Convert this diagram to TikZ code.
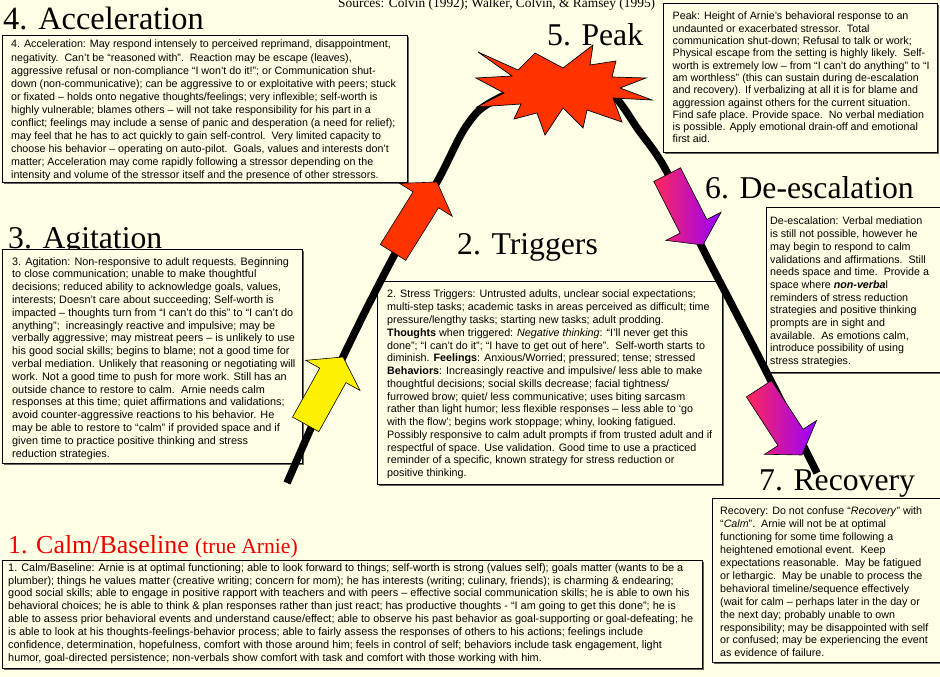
\documentclass[tikz,border=0pt]{standalone}
\usepackage{fontspec}
\setmainfont{Liberation Sans}
\newfontfamily\titlefont{Liberation Serif}
\definecolor{bgcol}{RGB}{255,255,229}
\definecolor{redarrow}{RGB}{255,51,0}
\definecolor{magtop}{RGB}{255,40,90}
\definecolor{magbot}{RGB}{150,0,255}
\definecolor{calmred}{RGB}{235,0,0}
\tikzset{
  stagetitle/.style={font=\titlefont\fontsize{31.7}{36}\selectfont, inner sep=0pt, anchor=base west},
  boxtext/.style={inner sep=0pt, anchor=north west, align=left},
  infobox/.style={draw=black, line width=0.8pt, fill=bgcol},
  boxshadow/.style={fill=black!60},
  arrowline/.style={draw=black, line width=0.6pt, line join=miter},
}
\newcommand{\blockarrow}[4]{%
  \begin{scope}[shift={#1},rotate=#2]
    \path[arrowline,#4] (0,0) -- (-21,31) -- (-21,15) -- (-#3,15) -- (-#3,-15) -- (-21,-15) -- (-21,-31) -- cycle;
  \end{scope}}
\newcommand{\infoboxat}[4]{%
  \fill[boxshadow] (#1+2,#2+2) rectangle (#3+2,#4+2);
  \path[infobox] (#1,#2) rectangle (#3,#4);}
\begin{document}
\begin{tikzpicture}[x=1pt,y=-1pt]
\fill[bgcol] (0,0) rectangle (940,677);
\useasboundingbox (0,0) rectangle (940,677);

% titles
\node[inner sep=0pt, anchor=base west, font=\titlefont\fontsize{13.4}{16}\selectfont] (src) at (338,8) {Sources: Colvin (1992); Walker, Colvin, \& Ramsey (1995)};
\node[stagetitle, font=\titlefont\fontsize{32.4}{36}\selectfont] (t4) at (3,30) {4. Acceleration};
\node[stagetitle] (t5) at (547,46) {5. Peak};
\node[stagetitle] (t2) at (457,254) {2. Triggers};
\node[stagetitle] (t3) at (8,248.5) {3. Agitation};
\node[stagetitle] (t6) at (705,198) {6. De-escalation};
\node[stagetitle] (t7) at (759,490) {7. Recovery};
\node[inner sep=0pt, anchor=base west, text=calmred, font=\titlefont] (t1) at (8,553) {\fontsize{25.9}{30}\selectfont 1. Calm/Baseline \fontsize{21.6}{24}\selectfont(true Arnie)};

% boxes
\infoboxat{2}{35}{407}{182}
\infoboxat{663}{3}{937}{152}
\infoboxat{2}{249}{302}{463}
\infoboxat{377}{281}{722}{484}
\infoboxat{766}{207}{944}{372}
\infoboxat{712}{498}{944}{662}
\infoboxat{2}{560}{702}{668}

% box texts
\node[boxtext, font=\fontsize{10.7}{13.1}\selectfont] (acc) at (11,40) {4. Acceleration: May respond intensely to perceived reprimand, disappointment,\\
negativity.\ \ Can’t be “reasoned with”.\ \ Reaction may be escape (leaves),\\
aggressive refusal or non-compliance “I won’t do it!”; or Communication shut-\\
down (non-communicative); can be aggressive to or exploitative with peers; stuck\\
or fixated – holds onto negative thoughts/feelings; very inflexible; self-worth is\\
highly vulnerable; blames others -- will not take responsibility for his part in a\\
conflict; feelings may include a sense of panic and desperation (a need for relief);\\
may feel that he has to act quickly to gain self-control.\ \ Very limited capacity to\\
choose his behavior – operating on auto-pilot.\ \ Goals, values and interests don’t\\
matter; Acceleration may come rapidly following a stressor depending on the\\
intensity and volume of the stressor itself and the presence of other stressors.};

\node[boxtext, font=\fontsize{10.7}{12.3}\selectfont] (peak) at (672.5,12) {Peak: Height of Arnie’s behavioral response to an\\
undaunted or exacerbated stressor.\ \ Total\\
communication shut-down; Refusal to talk or work;\\
Physical escape from the setting is highly likely.\ \ Self-\\
worth is extremely low – from “I can’t do anything” to “I\\
am worthless” (this can sustain during de-escalation\\
and recovery). If verbalizing at all it is for blame and\\
aggression against others for the current situation.\\
Find safe place. Provide space.\ \ No verbal mediation\\
is possible. Apply emotional drain-off and emotional\\
first aid.};

\node[boxtext, font=\fontsize{10.85}{12.8}\selectfont] (agi) at (12,257) {3. Agitation: Non-responsive to adult requests. Beginning\\
to close communication; unable to make thoughtful\\
decisions; reduced ability to acknowledge goals, values,\\
interests; Doesn’t care about succeeding; Self-worth is\\
impacted – thoughts turn from “I can’t do this” to “I can’t do\\
anything”;\ \ increasingly reactive and impulsive; may be\\
verbally aggressive; may mistreat peers – is unlikely to use\\
his good social skills; begins to blame; not a good time for\\
verbal mediation. Unlikely that reasoning or negotiating will\\
work. Not a good time to push for more work. Still has an\\
outside chance to restore to calm.\ \ Arnie needs calm\\
responses at this time; quiet affirmations and validations;\\
avoid counter-aggressive reactions to his behavior. He\\
may be able to restore to “calm” if provided space and if\\
given time to practice positive thinking and stress\\
reduction strategies.};

\node[boxtext, font=\fontsize{10.75}{12.76}\selectfont] (trig) at (387,290) {2. Stress Triggers: Untrusted adults, unclear social expectations;\\
multi-step tasks; academic tasks in areas perceived as difficult; time\\
pressure/lengthy tasks; starting new tasks; adult prodding.\\
\textbf{Thoughts} when triggered: \textit{Negative thinking}: “I’ll never get this\\
done”; “I can’t do it”; “I have to get out of here”.\ \ Self-worth starts to\\
diminish. \textbf{Feelings}: Anxious/Worried; pressured; tense; stressed\\
\textbf{Behaviors}: Increasingly reactive and impulsive/ less able to make\\
thoughtful decisions; social skills decrease; facial tightness/\\
furrowed brow; quiet/ less communicative; uses biting sarcasm\\
rather than light humor; less flexible responses – less able to ‘go\\
with the flow’; begins work stoppage; whiny, looking fatigued.\\
Possibly responsive to calm adult prompts if from trusted adult and if\\
respectful of space. Use validation. Good time to use a practiced\\
reminder of a specific, known strategy for stress reduction or\\
positive thinking.};

\node[boxtext, font=\fontsize{10.7}{12.7}\selectfont] (desc) at (770,217) {De-escalation: Verbal mediation\\
is still not possible, however he\\
may begin to respond to calm\\
validations and affirmations.\ \ Still\\
needs space and time.\ \ Provide a\\
space where \textbf{\textit{non-verba}}l\\
reminders of stress reduction\\
strategies and positive thinking\\
prompts are in sight and\\
available.\ \ As emotions calm,\\
introduce possibility of using\\
stress strategies.};

\node[boxtext, font=\fontsize{10.7}{12.9}\selectfont] (reco) at (720,507) {Recovery: Do not confuse “\textit{Recovery}” with\\
“\textit{Calm}”.\ \ Arnie will not be at optimal\\
functioning for some time following a\\
heightened emotional event.\ \ Keep\\
expectations reasonable.\ \ May be fatigued\\
or lethargic.\ \ May be unable to process the\\
behavioral timeline/sequence effectively\\
(wait for calm – perhaps later in the day or\\
the next day; probably unable to own\\
responsibility; may be disappointed with self\\
or confused; may be experiencing the event\\
as evidence of failure.};

\node[boxtext, font=\fontsize{10.9}{12.9}\selectfont] (calm) at (8,563) {1. Calm/Baseline: Arnie is at optimal functioning; able to look forward to things; self-worth is strong (values self); goals matter (wants to be a\\
plumber); things he values matter (creative writing; concern for mom); he has interests (writing; culinary, friends); is charming \& endearing;\\
good social skills; able to engage in positive rapport with teachers and with peers – effective social communication skills; he is able to own his\\
behavioral choices; he is able to think \& plan responses rather than just react; has productive thoughts - “I am going to get this done”; he is\\
able to assess prior behavioral events and understand cause/effect; able to observe his past behavior as goal-supporting or goal-defeating; he\\
is able to look at his thoughts-feelings-behavior process; able to fairly assess the responses of others to his actions; feelings include\\
confidence, determination, hopefulness, comfort with those around him; feels in control of self; behaviors include task engagement, light\\
humor, goal-directed persistence; non-verbals show comfort with task and comfort with those working with him.};

% the curve
\draw[line width=7.5pt] plot[smooth, tension=0.6] coordinates {(287,483) (343,357) (397,250) (437,182) (467,125) (495,100) (555,78) (605,88) (640,132) (667,172) (700,243) (733,307) (767,373) (817,473)};

% arrows
\blockarrow{(343,357)}{61}{77}{fill=yellow}
\blockarrow{(437,182)}{58}{83}{fill=redarrow}
\blockarrow{(703,245)}{-63}{79}{left color=magtop,right color=magbot}
\blockarrow{(802,455)}{-57}{79}{left color=magtop,right color=magbot}

% peak star
\filldraw[fill=redarrow, draw=black, line width=0.7pt, line join=miter]
 (478,52) -- (518,70) -- (535,53) -- (563,68) -- (593,45) -- (590,65) -- (616,61) -- (612,77) -- (646,78) -- (620,88) -- (652,100) -- (613,98) -- (622,122) -- (587,110) -- (583,128) -- (563,108) -- (545,135) -- (537,113) -- (514,119) -- (521,104) -- (477,107) -- (504,93) -- (476,78) -- (512,76) -- cycle;
\end{tikzpicture}
\end{document}
